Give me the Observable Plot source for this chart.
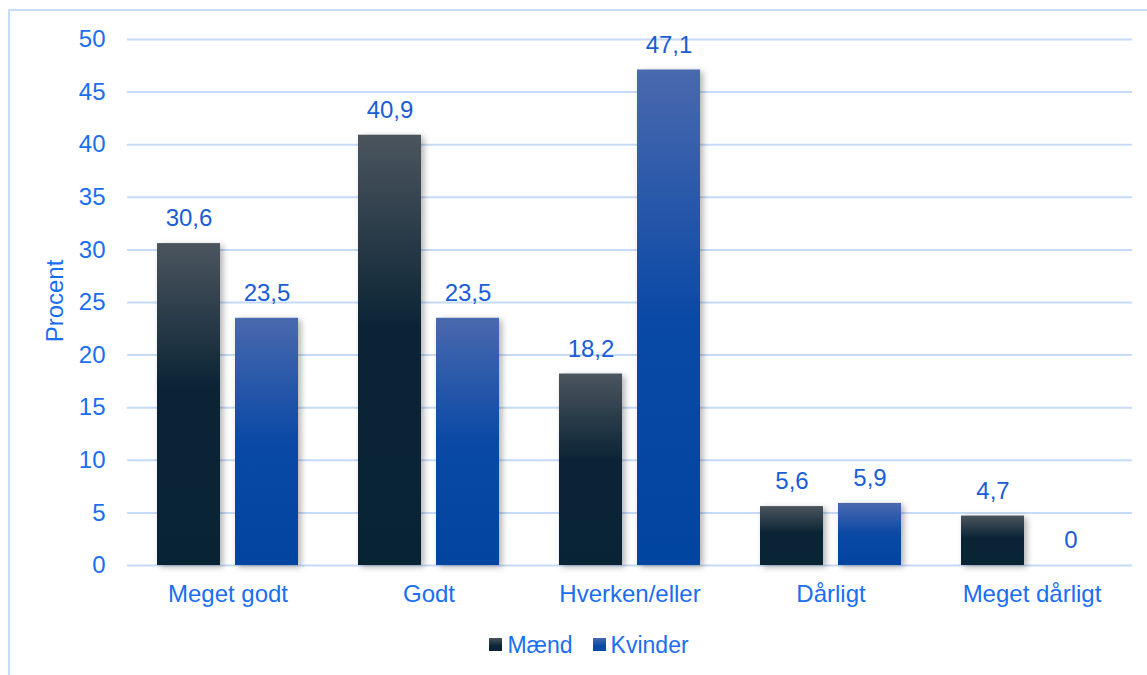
<!DOCTYPE html>
<html>
<head>
<meta charset="utf-8">
<script src="https://cdn.jsdelivr.net/npm/d3@7"></script>
<script src="https://cdn.jsdelivr.net/npm/@observablehq/plot@0.6"></script>
<style>
  html, body { margin: 0; padding: 0; background: #fff; }
  body { width: 1147px; height: 675px; overflow: hidden; position: relative; font-family: "Liberation Sans", Arial, sans-serif; }
  #frame { position: absolute; left: 8px; top: 9px; width: 1160px; height: 700px; border: 2px solid #c9ddf8; box-sizing: border-box; }
  #chart { position: absolute; left: 0; top: 0; }
  #chart svg g[aria-label="bar"] rect { filter: drop-shadow(3px 2px 3px rgba(0,0,0,0.3)); }
  #legend { position: absolute; top: 629px; left: 0; width: 1178px; text-align: center; font-size: 23px; color: #1a6ef0; line-height: 28px; }
  #legend span.item { display: inline-flex; align-items: center; margin: 0 10px; }
  #legend span.sw { display: inline-block; width: 13px; height: 13px; margin-right: 5px; }
</style>
</head>
<body>
<div id="frame"></div>
<div id="chart"></div>
<div id="legend"></div>
<script>
const categories = ["Meget godt", "Godt", "Hverken/eller", "Dårligt", "Meget dårligt"];
const series = ["Mænd", "Kvinder"];
const maend = [30.6, 40.9, 18.2, 5.6, 4.7];
const kvinder = [23.5, 23.5, 47.1, 5.9, 0];
const yTicks = [0, 5, 10, 15, 20, 25, 30, 35, 40, 45, 50];

const data = [];
categories.forEach((c, i) => {
  data.push({cat: c, serie: "Mænd", value: maend[i]});
  data.push({cat: c, serie: "Kvinder", value: kvinder[i]});
});
const gradId = {"Mænd": "url(#gm)", "Kvinder": "url(#gk)"};
const fmt = v => String(v).replace(".", ",");
const FS = 24;

const chart = Plot.plot({
  width: 1147,
  height: 620,
  marginTop: 39,
  marginBottom: 55,
  marginLeft: 126,
  marginRight: 15,
  style: {fontFamily: "'Liberation Sans', Arial, sans-serif", fontSize: FS + "px", color: "#1a6ef0", background: "transparent"},
  fx: {domain: categories, padding: 0, label: null, axis: null},
  x: {domain: series, paddingInner: 0.19, paddingOuter: 0.382, axis: null},
  y: {domain: [0, 50], label: null, axis: null},
  marks: [
    Plot.ruleY(yTicks, {stroke: "#c6dbf7", strokeWidth: 2}),
    Plot.barY(data, {fx: "cat", x: "serie", y: "value", fill: d => gradId[d.serie]}),
    Plot.text(data, {fx: "cat", x: "serie", y: "value", text: d => fmt(d.value), dy: -25, fill: "#1a5dd6", fontSize: FS}),
    Plot.axisY({ticks: yTicks, tickSize: 0, tickPadding: 22, fill: "#1a6ef0", fontSize: FS, label: null}),
    Plot.axisFx({anchor: "bottom", tickSize: 0, tickPadding: 19, fill: "#1a6ef0", fontSize: FS, label: null})
  ]
});

// gradients
const defs = d3.select(chart).insert("defs", ":first-child");
const gm = defs.append("linearGradient").attr("id", "gm").attr("x1", 0).attr("y1", 0).attr("x2", 0).attr("y2", 1);
gm.append("stop").attr("offset", "0%").attr("stop-color", "#4b555e");
gm.append("stop").attr("offset", "45%").attr("stop-color", "#0b2435");
gm.append("stop").attr("offset", "100%").attr("stop-color", "#082434");
const gk = defs.append("linearGradient").attr("id", "gk").attr("x1", 0).attr("y1", 0).attr("x2", 0).attr("y2", 1);
gk.append("stop").attr("offset", "0%").attr("stop-color", "#4a69ae");
gk.append("stop").attr("offset", "50%").attr("stop-color", "#0a49a6");
gk.append("stop").attr("offset", "100%").attr("stop-color", "#0045a0");

// y label
d3.select(chart).append("text")
  .attr("transform", "translate(57,301) rotate(-90)")
  .attr("text-anchor", "middle")
  .attr("dominant-baseline", "middle")
  .attr("fill", "#1a6ef0")
  .style("font-size", FS + "px")
  .text("Procent");

document.getElementById("chart").appendChild(chart);

// legend
const legend = document.getElementById("legend");
const swatchCss = {"Mænd": "linear-gradient(#4b555e, #0b2435 60%)", "Kvinder": "linear-gradient(#4a69ae, #0a49a6 60%)"};
series.forEach(s => {
  const item = document.createElement("span");
  item.className = "item";
  const sw = document.createElement("span");
  sw.className = "sw";
  sw.style.background = swatchCss[s];
  item.appendChild(sw);
  item.appendChild(document.createTextNode(s));
  legend.appendChild(item);
});
</script>
</body>
</html>
